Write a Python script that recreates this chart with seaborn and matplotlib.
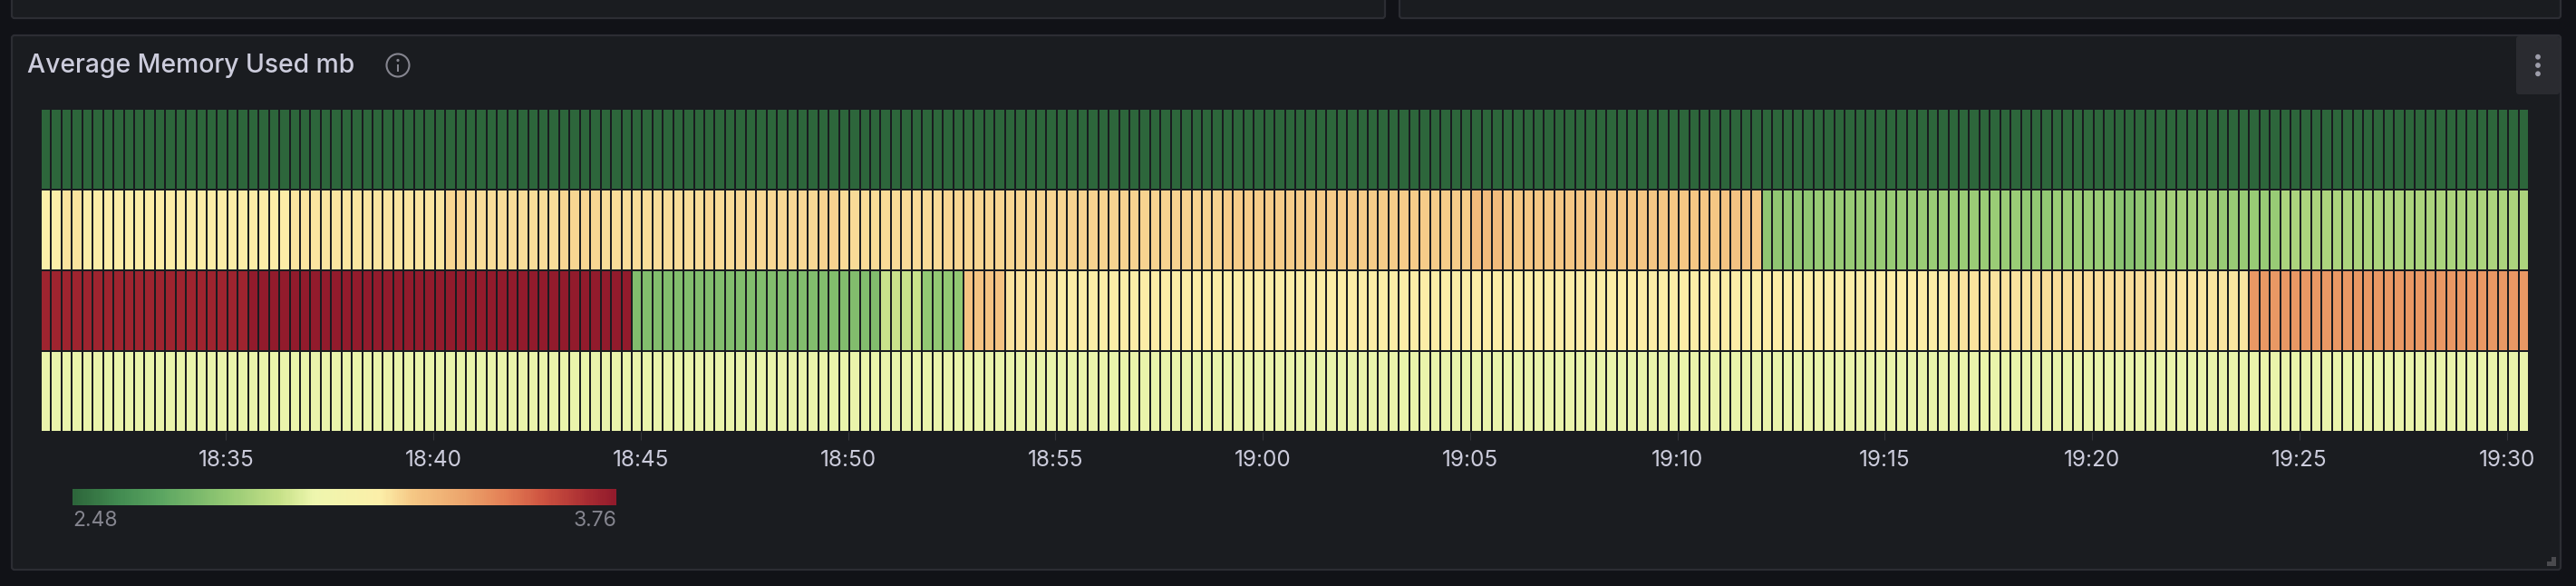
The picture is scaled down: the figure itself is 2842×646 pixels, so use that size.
"""Grafana style heatmap panel: Average Memory Used mb."""

import matplotlib.pyplot as plt
import numpy as np
import pandas as pd
import seaborn as sns
from matplotlib.colors import LinearSegmentedColormap
from matplotlib.patches import Circle, FancyBboxPatch, Rectangle

W, H = 2842, 646

# values, one run per stretch of similar cells
host_a = [2.48] * 240
host_b = (
    [3.20] * 2 + [3.225] * 2 + [3.205] * 20 + [3.22] * 15 + [3.25] * 2 + [3.235] * 9
    + [3.25] * 4 + [3.235] * 10 + [3.25] * 1 + [3.24] * 2 + [3.245] * 8 + [3.255] * 2
    + [3.24] * 10 + [3.25] * 12 + [3.26] * 15 + [3.27] * 24 + [3.32] * 3
    + [3.28] * 21 + [3.29] * 3 + [3.28] * 1
    + [2.83] * 5 + [2.85] * 8 + [2.86] * 12 + [2.84] * 3 + [2.86] * 6 + [2.81] * 2
    + [2.83] * 2 + [2.88] * 6 + [2.85] * 6 + [2.90] * 24
)
host_c = (
    [3.72] * 20 + [3.76] * 37 + [2.79] * 24 + [2.97] * 4 + [2.84] * 4 + [3.29] * 4
    + [3.225] * 5 + [3.205] * 86 + [3.225] * 8 + [3.235] * 12 + [3.22] * 9 + [3.43] * 27
)
host_d = [3.04] * 240

hosts = ["a", "b", "c", "d"]
tick_labels = ["18:35", "18:40", "18:45", "18:50", "18:55", "19:00", "19:05",
               "19:10", "19:15", "19:20", "19:25", "19:30"]
tick_seconds = [18 * 3600 + 35 * 60 + 300 * i for i in range(len(tick_labels))]
first_cell_seconds = 18 * 3600 + 30 * 60 + 32
cell_seconds = 15
vmin, vmax = 2.48, 3.76

# legend gradient of the panel
scale_stops = [
    (0.00, "#2d663b"), (0.08, "#418a50"), (0.16, "#5ba561"), (0.28, "#93c873"),
    (0.38, "#c6e188"), (0.445, "#eef6ae"), (0.565, "#fcefa9"), (0.63, "#f5c583"),
    (0.72, "#eca56c"), (0.80, "#e37d54"), (0.87, "#cd5240"), (0.95, "#a82c32"),
    (1.00, "#921b2c"),
]

PAGE = "#111217"
PANEL = "#1a1c20"
BORDER = "#2c2d33"
TEXT = "#ccccdc"
MUTED = "#85858f"

sns.set_theme(style="dark")
plt.rcParams["font.family"] = ["Inter", "DejaVu Sans"]

cmap = LinearSegmentedColormap.from_list("memory", scale_stops)
df = pd.DataFrame([host_a, host_b, host_c, host_d], index=hosts)


def axes_at(fig, left, top, right, bottom):
    return fig.add_axes([left / W, 1 - bottom / H, (right - left) / W, (bottom - top) / H])


fig = plt.figure(figsize=(W / 100, H / 100), dpi=100, facecolor=PAGE)

# page chrome in pixel coordinates
bg = axes_at(fig, 0, 0, W, H)
bg.set_xlim(0, W)
bg.set_ylim(H, 0)
bg.axis("off")


def panel(x0, y0, x1, y1):
    bg.add_patch(FancyBboxPatch((x0, y0), x1 - x0, y1 - y0,
                                boxstyle="round,pad=0,rounding_size=3",
                                fc=PANEL, ec=BORDER, lw=1.6))


panel(13, -20, 1528, 20)
panel(1544, -20, 2825, 20)
panel(13, 39, 2825, 628)

bg.text(30, 72, "Average Memory Used mb", color=TEXT, fontsize=20.4, fontweight="medium",
        ha="left", va="center")

# info icon
bg.add_patch(Circle((439, 72), 12.5, fc="none", ec="#85858f", lw=1.5))
bg.add_patch(Rectangle((437.8, 71), 2.4, 8, fc="#85858f", ec="none"))
bg.add_patch(Circle((439, 66.5), 1.6, fc="#85858f", ec="none"))

# panel menu button
bg.add_patch(FancyBboxPatch((2776, 40), 48, 64, boxstyle="round,pad=0,rounding_size=3",
                            fc="#2a2b30", ec="none"))
for dot_y in (62.7, 72, 81.3):
    bg.add_patch(Circle((2800, dot_y), 2.9, fc="#9d9daa", ec="none"))

# resize handle
bg.add_patch(Rectangle((2810, 619), 10, 5, fc="#4a4a4e", ec="none"))
bg.add_patch(Rectangle((2815, 614), 5, 10, fc="#4a4a4e", ec="none"))

# heatmap
ax = axes_at(fig, 45, 120, 2790, 476)
sns.heatmap(df, ax=ax, cmap=cmap, vmin=vmin, vmax=vmax, cbar=False,
            linewidths=1.3, linecolor=PANEL, xticklabels=False, yticklabels=False)
ax.set_facecolor(PANEL)
ax.set_xticks([(s - first_cell_seconds) / cell_seconds for s in tick_seconds])
ax.set_xticklabels(tick_labels)
ax.set_yticks([])
ax.tick_params(axis="x", bottom=True, length=6.5, width=0.8, color="#33353a",
               labelcolor=TEXT, labelsize=17.5, pad=8)
for side in ax.spines.values():
    side.set_visible(False)

# legend gradient
lg = axes_at(fig, 80, 539, 680, 557)
gradient = pd.DataFrame([np.linspace(vmin, vmax, 300)])
sns.heatmap(gradient, ax=lg, cmap=cmap, vmin=vmin, vmax=vmax, cbar=False,
            xticklabels=False, yticklabels=False)
lg.axis("off")

bg.text(80, 574, "2.48", color=MUTED, fontsize=16.5, ha="left", va="center")
bg.text(680, 574, "3.76", color=MUTED, fontsize=16.5, ha="right", va="center")

fig.savefig("out.png", dpi=100, facecolor=PAGE)
